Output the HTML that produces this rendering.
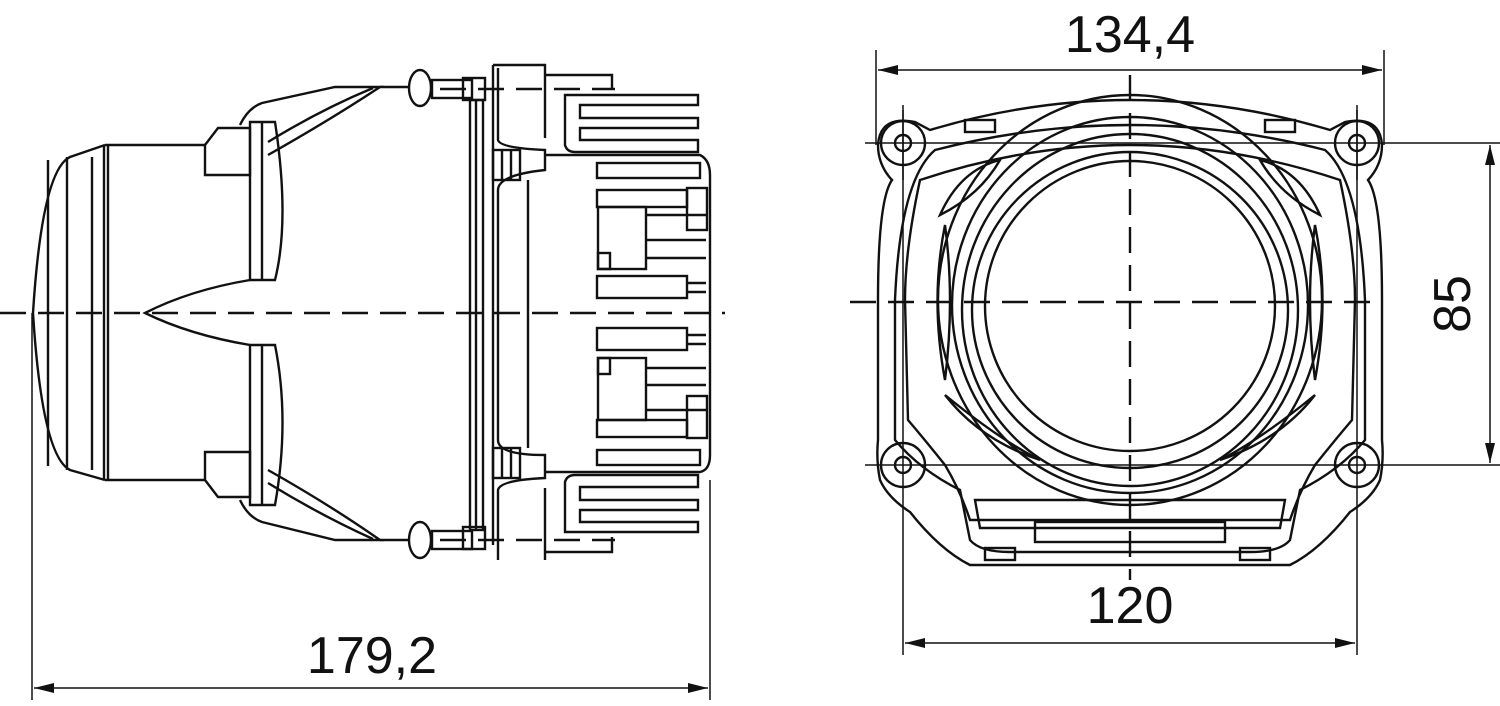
<!DOCTYPE html>
<html><head><meta charset="utf-8"><style>
html,body{margin:0;padding:0;background:#fff;}
svg{display:block}
text{font-family:"Liberation Sans",sans-serif;font-size:52px;fill:#111}
</style></head><body>
<svg width="1500" height="706" viewBox="0 0 1500 706" xmlns="http://www.w3.org/2000/svg" fill="none" stroke="#111" stroke-width="2.4">
<defs>
<marker id="a" viewBox="0 0 20 10" refX="20" refY="5" markerWidth="20" markerHeight="10" orient="auto-start-reverse" markerUnits="userSpaceOnUse"><path d="M0,0 L20,5 L0,10 Z" fill="#111" stroke="none"/></marker>
</defs>
<g>
<line x1="0" y1="313" x2="725" y2="313" stroke-dasharray="26,12"/>
<path d="M105,145 L70,157 Q42,170 33,313 Q42,456 70,470 L105,480"/>
<line x1="48" y1="160" x2="48" y2="466"/><line x1="67" y1="157" x2="67" y2="470"/>
<line x1="92" y1="157" x2="92" y2="470"/><line x1="104" y1="146" x2="104" y2="480"/><line x1="108" y1="146" x2="108" y2="480"/>
<path d="M105,145 L205,145 M105,480 L205,480"/>
<path d="M205,145 L205,175 L250,175 L250,128 L218,128 L205,145"/>
<path d="M205,480 L205,452 L250,452 L250,497 L218,497 L205,480"/>
<path d="M250,122 L275,122 Q290,220 275,280 L250,280 Z"/>
<path d="M250,345 L275,345 Q290,420 275,505 L250,505 Z"/>
<line x1="262" y1="122" x2="262" y2="280"/><line x1="262" y1="345" x2="262" y2="505"/>
<path d="M250,280 Q190,290 145,313 Q190,335 250,345"/>
<path d="M240,125 Q248,108 262,103 L335,87 L380,87 Q330,120 268,155"/>
<path d="M373,88 Q320,110 268,142"/>
<path d="M240,500 Q248,517 262,522 L335,540 L380,540 Q330,505 268,470"/>
<path d="M373,539 Q320,515 268,483"/>
<line x1="380" y1="87" x2="410" y2="87"/><line x1="380" y1="540" x2="410" y2="540"/>
<ellipse cx="420" cy="88" rx="11" ry="18"/><ellipse cx="420" cy="540" rx="11" ry="18"/>
<rect x="432" y="80" width="40" height="18"/><rect x="432" y="531" width="40" height="18"/>
<rect x="463" y="78" width="22" height="22"/><rect x="463" y="527" width="22" height="22"/>
<line x1="440" y1="89" x2="615" y2="89" stroke-dasharray="26,12"/><line x1="440" y1="540" x2="615" y2="540" stroke-dasharray="26,12"/>
<rect x="470" y="100" width="13" height="430"/><line x1="476" y1="100" x2="476" y2="530"/>
<path d="M493,65 L493,545 M493,65 L545,65 L545,138 M545,75 L612,75 L612,90"/>
<path d="M545,560 L545,488 M545,552 L612,552 L612,537"/>
<path d="M498,68 L498,140 Q500,148 545,150 L545,170 Q498,175 498,190 L498,440 Q498,455 545,455 L545,478 Q500,480 498,490 L498,560"/>
<rect x="493" y="150" width="27" height="30"/><rect x="493" y="448" width="27" height="30"/>
<line x1="502" y1="150" x2="502" y2="180"/><line x1="511" y1="150" x2="511" y2="180"/>
<line x1="502" y1="448" x2="502" y2="478"/><line x1="511" y1="448" x2="511" y2="478"/>
<line x1="528" y1="180" x2="528" y2="448"/>
<path d="M545,155 L700,155 Q710,160 710,175 L710,455 Q710,470 700,472 L545,472"/>
<path d="M565,95 L565,145 Q567,152 575,152 L698,152 L698,140 L580,140 L580,128 L698,128 L698,118 L580,118 L580,105 L698,105 L698,95 Z"/>
<path d="M565,532 L565,482 Q567,475 575,475 L698,475 L698,487 L580,487 L580,500 L698,500 L698,510 L580,510 L580,522 L698,522 L698,532 Z"/>
<rect x="597" y="163" width="103" height="15"/><rect x="597" y="190" width="90" height="17"/>
<rect x="687" y="188" width="20" height="42"/><rect x="598" y="207" width="48" height="62"/>
<line x1="646" y1="215" x2="706" y2="215"/><line x1="646" y1="240" x2="706" y2="240"/><line x1="646" y1="258" x2="706" y2="258"/>
<rect x="598" y="253" width="12" height="16"/>
<rect x="597" y="276" width="90" height="22"/><line x1="687" y1="283" x2="706" y2="283"/><line x1="687" y1="292" x2="706" y2="292"/>
<rect x="597" y="328" width="90" height="22"/><line x1="687" y1="335" x2="706" y2="335"/><line x1="687" y1="344" x2="706" y2="344"/>
<rect x="598" y="358" width="48" height="62"/><rect x="598" y="358" width="12" height="16"/>
<line x1="646" y1="368" x2="706" y2="368"/><line x1="646" y1="385" x2="706" y2="385"/><line x1="646" y1="410" x2="706" y2="410"/>
<rect x="597" y="420" width="90" height="17"/><rect x="687" y="396" width="20" height="42"/>
<rect x="597" y="450" width="103" height="15"/>
<line x1="32" y1="313" x2="32" y2="700" stroke-width="1.5"/>
<line x1="710" y1="480" x2="710" y2="700" stroke-width="1.5"/>
<line x1="34" y1="688" x2="708" y2="688" stroke-width="1.5" marker-start="url(#a)" marker-end="url(#a)"/>
</g>
<text x="372" y="673" text-anchor="middle" stroke="none">179,2</text>
<g>
<line x1="850" y1="302" x2="1370" y2="302" stroke-dasharray="26,12"/>
<line x1="1130" y1="75" x2="1130" y2="580" stroke-dasharray="26,12"/>
<line x1="865" y1="143" x2="1500" y2="143" stroke-width="1.5"/>
<line x1="865" y1="465" x2="1500" y2="465" stroke-width="1.5"/>
<line x1="876" y1="50" x2="876" y2="145" stroke-width="1.5"/>
<line x1="1384" y1="50" x2="1384" y2="145" stroke-width="1.5"/>
<line x1="878" y1="70" x2="1382" y2="70" stroke-width="1.5" marker-start="url(#a)" marker-end="url(#a)"/>
<line x1="903" y1="110" x2="903" y2="655" stroke-width="1.5"/>
<line x1="1357" y1="110" x2="1357" y2="655" stroke-width="1.5"/>
<line x1="905" y1="643" x2="1355" y2="643" stroke-width="1.5" marker-start="url(#a)" marker-end="url(#a)"/>
<line x1="1490" y1="145" x2="1490" y2="463" stroke-width="1.5" marker-start="url(#a)" marker-end="url(#a)"/>
<path d="M930,130 Q1130,70 1330,130 L1345,122 Q1380,115 1382,145 Q1382,165 1368,180 Q1382,200 1382,300 L1382,440 Q1384,460 1380,480 Q1372,498 1350,512 Q1320,550 1290,565 L970,565 Q940,550 910,512 Q888,498 880,480 Q876,460 878,440 L878,300 Q878,200 892,180 Q878,165 878,145 Q880,115 915,122 Z"/>
<path d="M935,150 Q1130,100 1325,150 Q1360,180 1365,300 L1365,440 Q1340,470 1300,490 L1290,540 Q1280,552 1250,552 L1010,552 Q980,552 970,540 L960,490 Q920,470 895,440 L895,300 Q900,180 935,150 Z"/>
<path d="M920,180 Q1130,110 1340,180 Q1355,250 1355,300 L1352,420 Q1335,440 1315,465 Q1300,490 1290,520 L970,520 Q960,490 945,465 Q925,440 908,420 L905,300 Q905,250 920,180 Z"/>
<path d="M975,500 L1285,500 L1280,528 L980,528 Z"/>
<rect x="1035" y="522" width="190" height="20"/>
<rect x="985" y="548" width="30" height="12"/><rect x="1240" y="548" width="30" height="12"/>
<rect x="965" y="120" width="30" height="12"/><rect x="1265" y="120" width="30" height="12"/>
<path d="M945,225 Q930,300 945,380 Q955,300 945,225 Z"/>
<path d="M1315,225 Q1330,300 1315,380 Q1305,300 1315,225 Z"/>
<path d="M940,215 Q960,170 1000,160 Q980,195 940,215 Z"/>
<path d="M1320,215 Q1300,170 1260,160 Q1280,195 1320,215 Z"/>
<path d="M945,395 Q1000,440 1040,460 Q980,440 945,395 Z"/>
<path d="M1315,395 Q1260,440 1220,460 Q1280,440 1315,395 Z"/>
<ellipse cx="1130" cy="300" rx="192" ry="205"/>
<ellipse cx="1130" cy="305" rx="178" ry="188"/>
<ellipse cx="1130" cy="310" rx="168" ry="176"/>
<circle cx="1130" cy="310" r="158"/>
<circle cx="1130" cy="306" r="145"/>
<g>
<circle cx="903" cy="143" r="22"/><circle cx="903" cy="143" r="8"/>
<circle cx="1357" cy="143" r="22"/><circle cx="1357" cy="143" r="8"/>
<circle cx="903" cy="465" r="22"/><circle cx="903" cy="465" r="8"/>
<circle cx="1357" cy="465" r="22"/><circle cx="1357" cy="465" r="8"/>
</g>
<line x1="903" y1="105" x2="903" y2="180" stroke-width="1.5"/>
<line x1="1357" y1="105" x2="1357" y2="180" stroke-width="1.5"/>
</g>
<text x="1130" y="52" text-anchor="middle" stroke="none">134,4</text>
<text x="1130" y="623" text-anchor="middle" stroke="none">120</text>
<text x="0" y="0" text-anchor="middle" stroke="none" transform="translate(1470,304) rotate(-90)">85</text>
</svg>
</body></html>
